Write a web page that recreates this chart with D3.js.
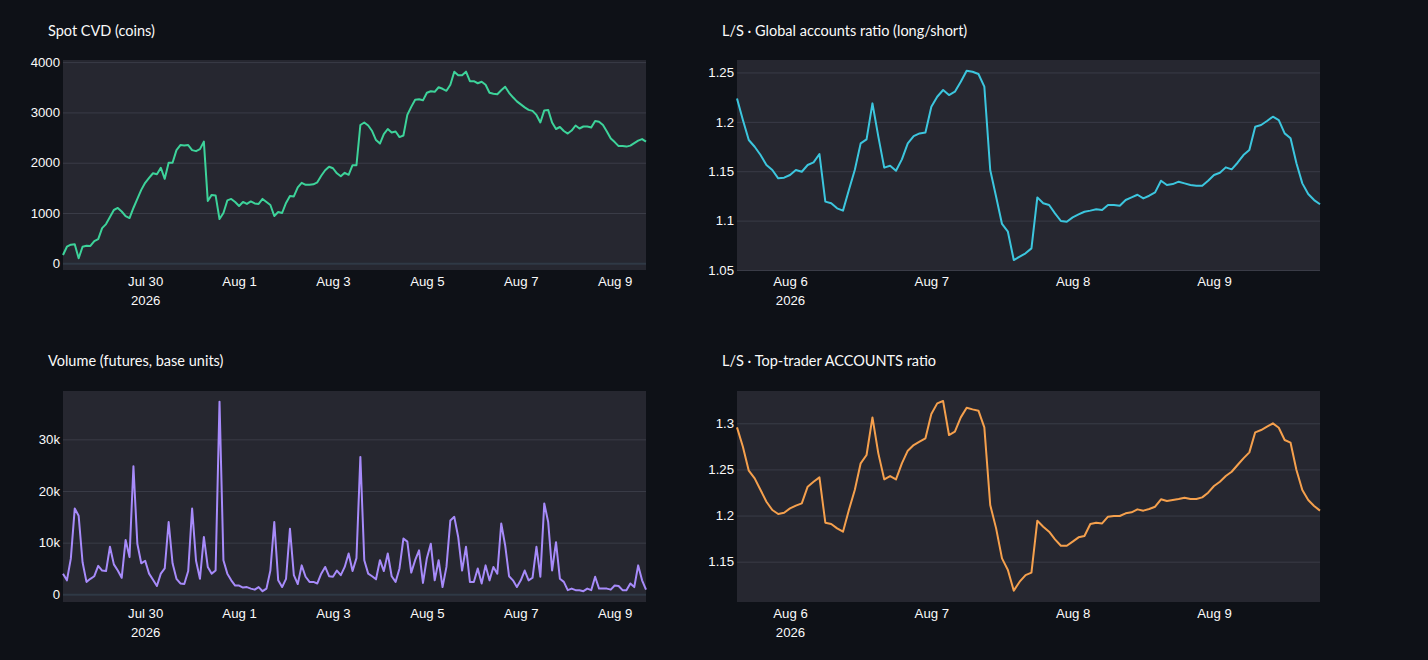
<!DOCTYPE html>
<html><head><meta charset="utf-8">
<script src="https://cdn.jsdelivr.net/npm/d3@7"></script>
<style>
html,body{margin:0;padding:0;background:#0e1117;}
svg{display:block;font-family:"Source Sans Pro",Lato,"Noto Sans",sans-serif;}
</style></head>
<body><svg id="c" width="1428" height="660"></svg>
<script>
// ---- data ----
// Left panels: 2-hourly samples starting 2026-07-28 06:00 UTC
const leftStart = "2026-07-28T06:00:00Z";
const leftStepHours = 2;
const spotCVD = [165,330,370,380,100,330,350,345,440,480,
 700,780,920,1060,1100,1030,940,900,1100,1280,
 1460,1600,1700,1790,1770,1900,1680,2000,2000,2250,
 2350,2340,2350,2250,2230,2270,2420,1240,1360,1350,
 880,1000,1250,1280,1220,1140,1220,1180,1230,1190,
 1180,1280,1220,1160,940,1020,1000,1200,1340,1330,
 1510,1600,1560,1560,1570,1610,1740,1850,1920,1890,
 1790,1730,1800,1760,1950,1950,2750,2800,2740,2630,
 2450,2380,2570,2670,2600,2620,2510,2540,2950,3110,
 3250,3260,3240,3390,3420,3410,3500,3470,3430,3550,
 3810,3740,3740,3810,3620,3620,3580,3610,3550,3390,
 3370,3360,3440,3510,3390,3300,3220,3160,3100,3050,
 3030,2950,2800,3040,3050,2800,2670,2710,2630,2580,
 2640,2740,2680,2720,2720,2700,2830,2815,2750,2620,
 2480,2410,2330,2330,2320,2340,2390,2440,2470,2420];
const futVolume = [4000,2700,6900,16600,15200,6200,2400,3000,3500,5500,
 4600,4500,9200,5800,4600,3200,10500,7200,24800,9800,
 6000,6500,4000,2800,1600,4000,5000,14000,6000,3000,
 2100,2000,4500,16600,6500,3000,11100,5300,4000,4600,
 37300,6600,4000,2700,1700,1700,1300,1400,1100,900,
 1400,600,1100,4600,14000,2700,1400,3000,12700,3700,
 2000,5600,3400,2400,2400,2100,4000,5300,3500,3400,
 4600,3700,5300,7900,4500,7000,26600,6600,4000,3500,
 2900,6600,4500,7900,3500,2400,5000,10800,10200,4200,
 6600,8500,2200,7000,9800,2700,6600,1400,5300,14300,
 15000,11100,4600,9200,2400,2400,5000,2100,5600,2700,
 5300,4000,13700,9500,3500,2700,1400,2700,4600,2700,
 3200,9200,3400,17600,14000,4600,10100,3000,2400,800,
 1100,800,800,600,1100,800,3400,1100,1100,1100,
 900,1700,1600,800,800,2100,1400,5600,2700,900];
// Right panels: hourly samples starting 2026-08-05 15:00 UTC
const rightStart = "2026-08-05T15:00:00Z";
const rightStepHours = 1;
const globalRatio = [1.2237,1.2018,1.1816,1.1748,1.1664,1.1563,1.1512,1.1428,1.1435,1.1462,
 1.1512,1.1495,1.1563,1.1590,1.1674,1.1192,1.1175,1.1124,1.1101,1.1310,
 1.1512,1.1782,1.1823,1.2187,1.1850,1.1536,1.1556,1.1505,1.1620,1.1782,
 1.1856,1.1883,1.1893,1.2153,1.2254,1.2322,1.2271,1.2305,1.2406,1.2518,
 1.2507,1.2484,1.2356,1.1512,1.1242,1.0966,1.0888,1.0601,1.0635,1.0669,
 1.0719,1.1235,1.1175,1.1158,1.1074,1.0996,1.0989,1.1033,1.1063,1.1090,
 1.1101,1.1114,1.1107,1.1158,1.1158,1.1151,1.1209,1.1235,1.1262,1.1225,
 1.1252,1.1286,1.1404,1.1360,1.1370,1.1394,1.1377,1.1360,1.1354,1.1354,
 1.1404,1.1462,1.1485,1.1539,1.1519,1.1586,1.1664,1.1715,1.1951,1.1968,
 1.2008,1.2052,1.2018,1.1883,1.1833,1.1580,1.1377,1.1269,1.1208,1.1165];
const topTraderRatio = [1.2956,1.2746,1.2486,1.2403,1.2277,1.2150,1.2060,1.2017,1.2031,1.2078,
 1.2107,1.2132,1.2313,1.2367,1.2414,1.1923,1.1908,1.1861,1.1825,1.2060,
 1.2277,1.2566,1.2656,1.3064,1.2674,1.2392,1.2428,1.2392,1.2566,1.2703,
 1.2764,1.2801,1.2837,1.3100,1.3216,1.3241,1.2873,1.2909,1.3064,1.3169,
 1.3151,1.3137,1.2956,1.2114,1.1861,1.1536,1.1410,1.1186,1.1283,1.1355,
 1.1381,1.1944,1.1879,1.1825,1.1742,1.1673,1.1673,1.1717,1.1764,1.1778,
 1.1908,1.1923,1.1915,1.1988,1.1995,1.1995,1.2024,1.2035,1.2067,1.2053,
 1.2071,1.2096,1.2176,1.2158,1.2168,1.2179,1.2194,1.2179,1.2179,1.2197,
 1.2248,1.2320,1.2367,1.2428,1.2475,1.2548,1.2620,1.2685,1.2902,1.2927,
 1.2963,1.2999,1.2952,1.2819,1.2790,1.2494,1.2277,1.2168,1.2103,1.2053];
// tick labels
const leftXTicks = ["2026-07-30","2026-08-01","2026-08-03","2026-08-05","2026-08-07","2026-08-09"];
const rightXTicks = ["2026-08-06","2026-08-07","2026-08-08","2026-08-09"];
const cvdYTicks = [0,1000,2000,3000,4000];
const volYTicks = [0,10000,20000,30000];
const globalYTicks = [1.05,1.1,1.15,1.2,1.25];
const topYTicks = [1.15,1.2,1.25,1.3];
const titles = ["Spot CVD (coins)","Volume (futures, base units)","L/S · Global accounts ratio (long/short)","L/S · Top-trader ACCOUNTS ratio"];

// ---- drawing ----
const svg = d3.select("#c");
svg.append("rect").attr("width",1428).attr("height",660).attr("fill","#0e1117");
const H = 3600*1000;
function times(start, step, n){ const t0 = new Date(start).getTime(); return d3.range(n).map(i => new Date(t0 + i*step*H)); }
const fmtDay = d3.utcFormat("%b %-d");
const TF = 13.2;

const panels = [
 {title:titles[0], x:[63,646], y:[270,60], ydom:[-133,4042], vals:spotCVD, t:times(leftStart,leftStepHours,spotCVD.length), xt:leftXTicks, yt:cvdYTicks, yfmt:d3.format("d"), color:"#3dd39a", zero:true, tx:48, ty:36},
 {title:titles[1], x:[63,646], y:[602,391], ydom:[-1490,39360], vals:futVolume, t:times(leftStart,leftStepHours,futVolume.length), xt:leftXTicks, yt:volYTicks, yfmt:d => d===0?"0":(d/1000)+"k", color:"#a78bfa", zero:true, tx:48, ty:366},
 {title:titles[2], x:[737,1320], y:[270,60], ydom:[1.05,1.2626], vals:globalRatio, t:times(rightStart,rightStepHours,globalRatio.length), xt:rightXTicks, yt:globalYTicks, yfmt:d => String(+d.toFixed(2)), color:"#3cc6de", zero:false, tx:722, ty:36},
 {title:titles[3], x:[737,1320], y:[602,391], ydom:[1.1063,1.335], vals:topTraderRatio, t:times(rightStart,rightStepHours,topTraderRatio.length), xt:rightXTicks, yt:topYTicks, yfmt:d => String(+d.toFixed(2)), color:"#f5a04d", zero:false, tx:722, ty:366}
];

panels.forEach(p => {
  const g = svg.append("g");
  const xs = d3.scaleUtc().domain([p.t[0], p.t[p.t.length-1]]).range(p.x);
  const ys = d3.scaleLinear().domain(p.ydom).range(p.y);
  g.append("text").attr("x",p.tx).attr("y",p.ty).attr("fill","#fafafa").attr("font-size",14.5).text(p.title);
  g.append("rect").attr("x",p.x[0]).attr("y",p.y[1]).attr("width",p.x[1]-p.x[0]).attr("height",p.y[0]-p.y[1]).attr("fill","#262730");
  // grid
  const yAxis = d3.axisLeft(ys).tickValues(p.yt).tickFormat(p.yfmt).tickSize(-(p.x[1]-p.x[0])).tickPadding(3);
  const ya = g.append("g").attr("transform",`translate(${p.x[0]},0)`).call(yAxis);
  ya.select(".domain").remove();
  ya.selectAll(".tick line").attr("stroke", d => (p.zero && d===0) ? "#2f3945" : "#3a3c47").attr("stroke-width", d => (p.zero && d===0) ? 2 : 1);
  ya.selectAll(".tick text").attr("fill","#fafafa").attr("font-size",TF).attr("font-family","inherit");
  // line
  const line = d3.line().x((d,i)=>xs(p.t[i])).y(d=>ys(d)).curve(d3.curveLinear);
  g.append("path").datum(p.vals).attr("d",line).attr("fill","none").attr("stroke",p.color).attr("stroke-width",2).attr("stroke-linejoin","round");
  // x axis
  const tv = p.xt.map(s => new Date(s+"T00:00:00Z"));
  const xAxis = d3.axisBottom(xs).tickValues(tv).tickFormat(fmtDay).tickSize(0).tickPadding(7);
  const xa = g.append("g").attr("transform",`translate(0,${p.y[0]})`).call(xAxis);
  xa.select(".domain").remove();
  xa.selectAll(".tick text").attr("fill","#fafafa").attr("font-size",TF).attr("font-family","inherit");
  xa.selectAll(".tick").filter((d,i)=>i===0).append("text").attr("fill","#fafafa").attr("font-size",TF)
    .attr("y",26).attr("dy","0.71em").attr("text-anchor","middle").text(d => d3.utcFormat("%Y")(d));
});
</script></body></html>
